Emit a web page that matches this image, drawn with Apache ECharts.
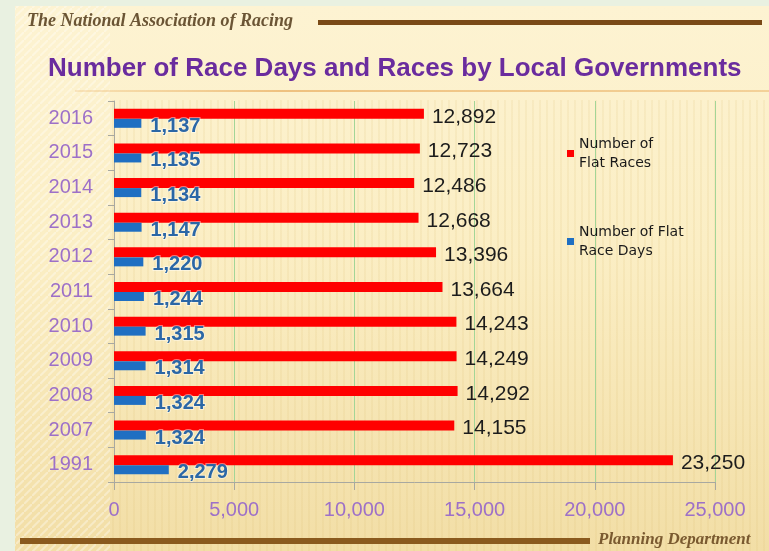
<!DOCTYPE html>
<html>
<head>
<meta charset="utf-8">
<title>Number of Race Days and Races by Local Governments</title>
<script src="https://cdn.jsdelivr.net/npm/echarts@6/dist/echarts.min.js"></script>
<style>
    html, body { margin: 0; padding: 0; background: #e9f1e1; }
    #chart { width: 769px; height: 551px; }
</style>
</head>
<body>
<div id="chart"></div>
<script>
const YEARS = ['2016', '2015', '2014', '2013', '2012', '2011', '2010', '2009', '2008', '2007', '1991'];
const FLAT_RACES = [12892, 12723, 12486, 12668, 13396, 13664, 14243, 14249, 14292, 14155, 23250];
const FLAT_RACE_DAYS = [1137, 1135, 1134, 1147, 1220, 1244, 1315, 1314, 1324, 1324, 2279];
const X_TICKS = [0, 5000, 10000, 15000, 20000, 25000];

const NUM_FONT = '"Liberation Sans", Arial, sans-serif';
const SERIF_FONT = '"Liberation Serif", "DejaVu Serif", serif';

function formatNumber(value) {
    return Number(value).toLocaleString('en-US');
}

// slide texture: "/" stripes on the left edge, faint vertical ones elsewhere
function makeDiagonalPattern() {
    const c = document.createElement('canvas');
    c.width = 8;
    c.height = 8;
    const ctx = c.getContext('2d');
    ctx.strokeStyle = 'rgba(255,255,255,0.35)';
    ctx.lineWidth = 2;
    ctx.beginPath();
    ctx.moveTo(-2, 10);
    ctx.lineTo(10, -2);
    ctx.stroke();
    return c;
}

function makeVerticalPattern() {
    const c = document.createElement('canvas');
    c.width = 7;
    c.height = 4;
    const ctx = c.getContext('2d');
    ctx.fillStyle = 'rgba(215,185,110,0.13)';
    ctx.fillRect(0, 0, 2, 4);
    return c;
}

const chart = echarts.init(document.getElementById('chart'));

chart.setOption({
    animation: false,
    backgroundColor: 'transparent',
    title: {
        text: 'Number of Race Days and Races by Local Governments',
        left: 48,
        top: 56,
        padding: 0,
        textStyle: {
            color: '#6a2c9e',
            fontSize: 26,
            fontWeight: 'bold',
            fontFamily: NUM_FONT,
        },
    },
    legend: {
        orient: 'vertical',
        left: 567,
        top: 125,
        padding: 0,
        itemWidth: 7,
        itemHeight: 7,
        itemGap: 31,
        icon: 'rect',
        data: ['Number of\nFlat Races', 'Number of Flat\nRace Days'],
        textStyle: {
            color: '#1a1a1a',
            fontSize: 14,
            lineHeight: 19,
            padding: [19, 0, 0, 0],
            fontFamily: '"DejaVu Sans", sans-serif',
        },
    },
    grid: { left: 114, right: 54, top: 101, bottom: 69 },
    xAxis: {
        type: 'value',
        min: X_TICKS[0],
        max: X_TICKS[X_TICKS.length - 1],
        interval: X_TICKS[1] - X_TICKS[0],
        axisLine: { show: true, lineStyle: { color: '#a8a8a0', width: 1 } },
        axisTick: { show: true, length: 8, lineStyle: { color: '#a8a8a0' } },
        splitLine: { show: true, lineStyle: { color: '#a3d596', width: 1 } },
        axisLabel: {
            color: '#9d70c8',
            fontSize: 20,
            margin: 18,
            fontFamily: NUM_FONT,
            formatter: formatNumber,
        },
    },
    yAxis: {
        type: 'category',
        inverse: true,
        data: YEARS,
        axisLine: { show: true, lineStyle: { color: '#a8a8a0', width: 1 } },
        axisTick: { show: true, length: 6, lineStyle: { color: '#a8a8a0' } },
        axisLabel: {
            color: '#9d70c8',
            fontSize: 20,
            margin: 21,
            fontFamily: NUM_FONT,
        },
    },
    series: [
        {
            name: 'Number of\nFlat Races',
            type: 'bar',
            data: FLAT_RACES,
            barWidth: 10,
            barGap: '0%',
            itemStyle: { color: '#ff0000' },
            label: {
                show: true,
                position: 'right',
                distance: 8,
                offset: [0, 3],
                color: '#1c1c1c',
                fontSize: 21,
                fontFamily: NUM_FONT,
                formatter: (p) => formatNumber(p.value),
            },
        },
        {
            name: 'Number of Flat\nRace Days',
            type: 'bar',
            data: FLAT_RACE_DAYS,
            barWidth: 9,
            itemStyle: { color: '#1f6fc2' },
            label: {
                show: true,
                position: 'right',
                distance: 9,
                offset: [0, 3],
                color: '#2b67a6',
                fontSize: 20,
                fontWeight: 'bold',
                fontFamily: NUM_FONT,
                textBorderColor: 'rgba(255,255,255,0.45)',
                textBorderWidth: 2,
                formatter: (p) => formatNumber(p.value),
            },
        },
    ],
    graphic: [
        {
            type: 'rect',
            z: -10,
            silent: true,
            shape: { x: 15, y: 6, width: 754, height: 545 },
            style: {
                fill: {
                    type: 'linear', x: 0, y: 0, x2: 0, y2: 1,
                    colorStops: [
                        { offset: 0, color: '#fdf3d2' },
                        { offset: 0.45, color: '#fbeec4' },
                        { offset: 1, color: '#f2dea6' },
                    ],
                },
            },
        },
        {
            type: 'rect',
            z: -9,
            silent: true,
            shape: { x: 110, y: 100, width: 659, height: 451 },
            style: { fill: { image: makeVerticalPattern(), repeat: 'repeat' } },
        },
        {
            type: 'rect',
            z: -9,
            silent: true,
            shape: { x: 15, y: 6, width: 95, height: 545 },
            style: { fill: { image: makeDiagonalPattern(), repeat: 'repeat' } },
        },
        {
            type: 'text',
            left: 27,
            top: 12,
            style: {
                text: 'The National Association of Racing',
                fill: '#6b5535',
                font: 'italic bold 18px ' + SERIF_FONT,
            },
        },
        {
            type: 'rect',
            silent: true,
            shape: { x: 318, y: 20, width: 444, height: 5 },
            style: { fill: '#7a4a16' },
        },
        {
            type: 'line',
            silent: true,
            shape: { x1: 75, y1: 91, x2: 769, y2: 91 },
            style: {
                lineWidth: 1.5,
                stroke: {
                    type: 'linear', x: 0, y: 0, x2: 1, y2: 0,
                    colorStops: [
                        { offset: 0, color: 'rgba(232,170,90,0.3)' },
                        { offset: 0.3, color: 'rgba(232,170,90,0.9)' },
                        { offset: 1, color: 'rgba(232,170,90,0.6)' },
                    ],
                },
            },
        },
        {
            type: 'rect',
            silent: true,
            shape: { x: 20, y: 538, width: 570, height: 6 },
            style: { fill: '#8a5a1e' },
        },
        {
            type: 'text',
            left: 598,
            top: 531,
            style: {
                text: 'Planning Department',
                fill: '#7a5a30',
                font: 'italic bold 17px ' + SERIF_FONT,
            },
        },
    ],
});
</script>
</body>
</html>
